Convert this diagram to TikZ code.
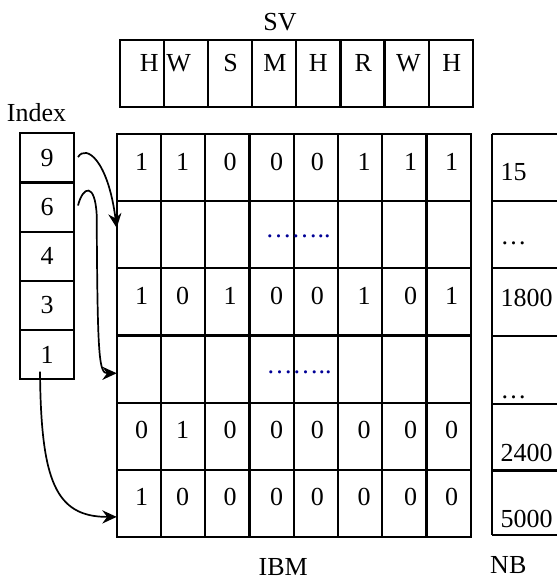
\documentclass[tikz,border=0pt]{standalone}
\usepackage{fontspec}
\setmainfont{Liberation Serif}
\usetikzlibrary{arrows.meta}
\definecolor{dotblue}{RGB}{0,0,150}
\begin{document}
\begin{tikzpicture}[x=0.5pt,y=-0.5pt,
  every node/.style={inner sep=0pt, outer sep=0pt},
  txt/.style={font=\fontsize{13}{15}\selectfont},
  gcell/.style={draw, line width=1.05pt, minimum width=44.25*0.5pt, minimum height=67.07*0.5pt},
  svcell/.style={draw, line width=1.05pt, minimum width=44.09*0.5pt, minimum height=67.3*0.5pt},
  icell/.style={draw, line width=1.05pt, minimum width=54*0.5pt, minimum height=49.2*0.5pt, txt},
  nbcell/.style={minimum width=65*0.5pt, minimum height=#1*0.5pt},
  nbline/.style={line width=1.05pt},
  arr/.style={line width=0.85pt, -{Stealth[length=7.2pt,width=6.6pt,inset=2.4pt]}}
]
\useasboundingbox (0,0) rectangle (557,578);

% SV row
\node[txt] (svlabel) at (280,21.7) {SV};
\foreach \c/\t/\xt in {1/H/149.3,2/W/178.7,3/S/230.7,4/M/275,5/H/318.3,6/R/363.3,7/W/408.3,8/H/451.7}{
  \node[svcell] (s-\c) at ({120+44.09*(\c-0.5)},73.65) {};
  \node[txt] (st-\c) at (\xt,63) {\t};
}

% main grid
\foreach \r in {1,...,6}{
  \foreach \c in {1,...,8}{
    \node[gcell] (g-\r-\c) at ({116.7+44.25*(\c-0.5)},{134.3+67.07*(\r-0.5)}) {};
  }
}
\foreach \r/\vals in {1/{1,1,0,0,0,1,1,1},3/{1,0,1,0,0,1,0,1},5/{0,1,0,0,0,0,0,0},6/{1,0,0,0,0,0,0,0}}{
  \foreach \v [count=\c] in \vals{
    \pgfmathsetmacro{\xt}{{141.7,182.7,230,276.7,317.3,364,410.7,451.7}[\c-1]}
    \node[txt] (gt-\r-\c) at (\xt,{134.3+67.07*(\r-0.5)-6.3}) {\v};
  }
}
\node[txt, text=dotblue, anchor=base] (dots1) at (298,237.6) {……..};
\node[txt, text=dotblue, anchor=base] (dots2) at (299,373.2) {……..};
\node[txt] (ibm) at (283.3,566.7) {IBM};

% index column
\node[txt] (indexlabel) at (36.5,112.5) {Index};
\foreach \k/\t in {1/9,2/6,3/4,4/3,5/1}{
  \node[icell] (i\t) at (47,{133.3+49.2*(\k-0.5)}) {\t};
}

% NB column
\foreach \k/\top/\h in {1/134.3/66.7,2/201/67,3/268/68,4/336/68,5/404/66.5,6/470.5/64.5}{
  \node[nbcell=\h, anchor=north west] (nb-\k) at (492,\top) {};
  \draw[nbline] (nb-\k.north west) -- (nb-\k.south west);
  \draw[nbline] (nb-\k.north west) -- (nb-\k.north east);
}
\draw[nbline] (nb-6.south west) -- (nb-6.south east);
\foreach \k/\b/\t in {1/180.7/15,2/244/…,3/306.7/1800,4/398/…,5/461/2400,6/527/5000}{
  \node[txt, anchor=base west] (nbt-\k) at (500.5,\b) {\t};
}
\node[txt] (nblabel) at (508.3,565) {NB};

% arrows
\coordinate (bend6) at (96.7,215);
\draw[arr] ([xshift=2pt,yshift=0.4pt]i9.east) .. controls (86,144) and (108,160) .. ([yshift=3.5pt]g-2-1.west);
\draw[arr] ([xshift=2pt,yshift=0.8pt]i6.east) .. controls (83,186) and (95,182) .. (bend6)
  .. controls (97.5,360) and (99,373.3) .. ([yshift=-2.1pt]g-4-1.west);
\draw[arr] ([xshift=-3.5pt,yshift=3.8pt]i1.south) .. controls (41,480) and (55,517) .. ([yshift=-6.85pt]g-6-1.west);
\end{tikzpicture}
\end{document}
